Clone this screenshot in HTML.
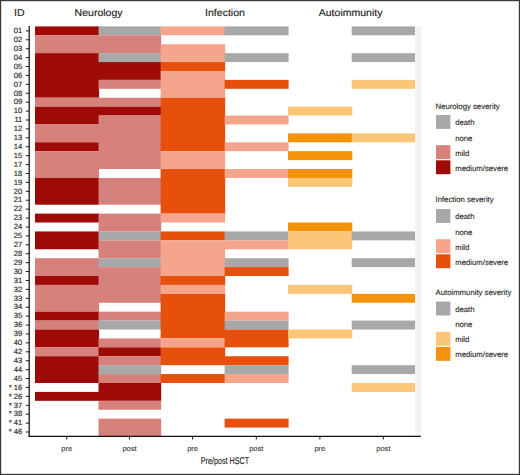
<!DOCTYPE html>
<html><head><meta charset="utf-8"><style>
html,body{margin:0;padding:0;background:#fff;}
body{width:520px;height:475px;overflow:hidden;}
svg{display:block;font-family:"Liberation Sans", sans-serif;text-rendering:geometricPrecision;}
</style></head><body>
<svg width="520" height="475" viewBox="0 0 520 475">
<rect width="520" height="475" fill="#fff"/>
<rect x="35" y="26.40" width="64.10" height="8.91" fill="#9e0a05"/>
<rect x="35" y="35.31" width="64.10" height="17.83" fill="#d6817c"/>
<rect x="35" y="53.14" width="64.10" height="44.57" fill="#9e0a05"/>
<rect x="35" y="97.72" width="64.10" height="8.91" fill="#d6817c"/>
<rect x="35" y="106.63" width="64.10" height="17.83" fill="#9e0a05"/>
<rect x="35" y="124.47" width="64.10" height="17.83" fill="#d6817c"/>
<rect x="35" y="142.29" width="64.10" height="8.91" fill="#9e0a05"/>
<rect x="35" y="151.21" width="64.10" height="26.74" fill="#d6817c"/>
<rect x="35" y="177.95" width="64.10" height="26.74" fill="#9e0a05"/>
<rect x="35" y="213.61" width="64.10" height="8.91" fill="#9e0a05"/>
<rect x="35" y="231.44" width="64.10" height="17.83" fill="#9e0a05"/>
<rect x="35" y="258.19" width="64.10" height="17.83" fill="#d6817c"/>
<rect x="35" y="276.02" width="64.10" height="8.91" fill="#9e0a05"/>
<rect x="35" y="284.93" width="64.10" height="26.74" fill="#d6817c"/>
<rect x="35" y="311.68" width="64.10" height="8.91" fill="#9e0a05"/>
<rect x="35" y="320.59" width="64.10" height="8.91" fill="#d6817c"/>
<rect x="35" y="329.51" width="64.10" height="17.83" fill="#9e0a05"/>
<rect x="35" y="347.34" width="64.10" height="8.91" fill="#d6817c"/>
<rect x="35" y="356.25" width="64.10" height="26.74" fill="#9e0a05"/>
<rect x="35" y="391.91" width="64.10" height="8.91" fill="#9e0a05"/>
<rect x="98.5" y="26.40" width="62.70" height="8.91" fill="#a8a8a8"/>
<rect x="98.5" y="35.31" width="62.70" height="17.83" fill="#d6817c"/>
<rect x="98.5" y="53.14" width="62.70" height="8.91" fill="#a8a8a8"/>
<rect x="98.5" y="62.06" width="62.70" height="17.83" fill="#9e0a05"/>
<rect x="98.5" y="79.89" width="62.70" height="8.91" fill="#d6817c"/>
<rect x="98.5" y="97.72" width="62.70" height="8.91" fill="#d6817c"/>
<rect x="98.5" y="106.63" width="62.70" height="8.91" fill="#9e0a05"/>
<rect x="98.5" y="115.55" width="62.70" height="53.49" fill="#d6817c"/>
<rect x="98.5" y="177.95" width="62.70" height="26.74" fill="#d6817c"/>
<rect x="98.5" y="213.61" width="62.70" height="17.83" fill="#d6817c"/>
<rect x="98.5" y="231.44" width="62.70" height="8.91" fill="#a8a8a8"/>
<rect x="98.5" y="240.36" width="62.70" height="17.83" fill="#d6817c"/>
<rect x="98.5" y="258.19" width="62.70" height="8.91" fill="#a8a8a8"/>
<rect x="98.5" y="267.10" width="62.70" height="35.66" fill="#d6817c"/>
<rect x="98.5" y="311.68" width="62.70" height="8.91" fill="#d6817c"/>
<rect x="98.5" y="320.59" width="62.70" height="8.91" fill="#a8a8a8"/>
<rect x="98.5" y="338.42" width="62.70" height="8.91" fill="#d6817c"/>
<rect x="98.5" y="347.34" width="62.70" height="8.91" fill="#9e0a05"/>
<rect x="98.5" y="356.25" width="62.70" height="8.91" fill="#d6817c"/>
<rect x="98.5" y="365.17" width="62.70" height="8.91" fill="#a8a8a8"/>
<rect x="98.5" y="374.08" width="62.70" height="8.91" fill="#d6817c"/>
<rect x="98.5" y="383.00" width="62.70" height="17.83" fill="#9e0a05"/>
<rect x="98.5" y="400.83" width="62.70" height="8.91" fill="#d6817c"/>
<rect x="98.5" y="418.66" width="62.70" height="17.83" fill="#d6817c"/>
<rect x="160.6" y="26.40" width="64.60" height="8.91" fill="#f5a58b"/>
<rect x="160.6" y="44.23" width="64.60" height="17.83" fill="#f5a58b"/>
<rect x="160.6" y="62.06" width="64.60" height="8.91" fill="#e6500c"/>
<rect x="160.6" y="70.97" width="64.60" height="26.74" fill="#f5a58b"/>
<rect x="160.6" y="97.72" width="64.60" height="53.49" fill="#e6500c"/>
<rect x="160.6" y="151.21" width="64.60" height="17.83" fill="#f5a58b"/>
<rect x="160.6" y="169.04" width="64.60" height="44.57" fill="#e6500c"/>
<rect x="160.6" y="213.61" width="64.60" height="8.91" fill="#f5a58b"/>
<rect x="160.6" y="231.44" width="64.60" height="8.91" fill="#e6500c"/>
<rect x="160.6" y="240.36" width="64.60" height="35.66" fill="#f5a58b"/>
<rect x="160.6" y="276.02" width="64.60" height="8.91" fill="#e6500c"/>
<rect x="160.6" y="284.93" width="64.60" height="8.91" fill="#f5a58b"/>
<rect x="160.6" y="293.85" width="64.60" height="44.57" fill="#e6500c"/>
<rect x="160.6" y="338.42" width="64.60" height="8.91" fill="#f5a58b"/>
<rect x="160.6" y="347.34" width="64.60" height="17.83" fill="#e6500c"/>
<rect x="160.6" y="374.08" width="64.60" height="8.91" fill="#e6500c"/>
<rect x="224.6" y="26.40" width="64.00" height="8.91" fill="#a8a8a8"/>
<rect x="224.6" y="53.14" width="64.00" height="8.91" fill="#a8a8a8"/>
<rect x="224.6" y="79.89" width="64.00" height="8.91" fill="#e6500c"/>
<rect x="224.6" y="115.55" width="64.00" height="8.91" fill="#f5a58b"/>
<rect x="224.6" y="142.29" width="64.00" height="8.91" fill="#f5a58b"/>
<rect x="224.6" y="169.04" width="64.00" height="8.91" fill="#f5a58b"/>
<rect x="224.6" y="231.44" width="64.00" height="8.91" fill="#a8a8a8"/>
<rect x="224.6" y="240.36" width="64.00" height="8.91" fill="#f5a58b"/>
<rect x="224.6" y="258.19" width="64.00" height="8.91" fill="#a8a8a8"/>
<rect x="224.6" y="267.10" width="64.00" height="8.91" fill="#e6500c"/>
<rect x="224.6" y="311.68" width="64.00" height="8.91" fill="#f5a58b"/>
<rect x="224.6" y="320.59" width="64.00" height="8.91" fill="#a8a8a8"/>
<rect x="224.6" y="329.51" width="64.00" height="17.83" fill="#e6500c"/>
<rect x="224.6" y="356.25" width="64.00" height="8.91" fill="#e6500c"/>
<rect x="224.6" y="365.17" width="64.00" height="8.91" fill="#a8a8a8"/>
<rect x="224.6" y="374.08" width="64.00" height="8.91" fill="#f5a58b"/>
<rect x="224.6" y="418.66" width="64.00" height="8.91" fill="#e6500c"/>
<rect x="288.0" y="106.63" width="64.30" height="8.91" fill="#fcc679"/>
<rect x="288.0" y="133.38" width="64.30" height="8.91" fill="#f4920a"/>
<rect x="288.0" y="151.21" width="64.30" height="8.91" fill="#f4920a"/>
<rect x="288.0" y="169.04" width="64.30" height="8.91" fill="#f4920a"/>
<rect x="288.0" y="177.95" width="64.30" height="8.91" fill="#fcc679"/>
<rect x="288.0" y="222.53" width="64.30" height="8.91" fill="#f4920a"/>
<rect x="288.0" y="231.44" width="64.30" height="17.83" fill="#fcc679"/>
<rect x="288.0" y="284.93" width="64.30" height="8.91" fill="#fcc679"/>
<rect x="288.0" y="329.51" width="64.30" height="8.91" fill="#fcc679"/>
<rect x="351.7" y="26.40" width="63.30" height="8.91" fill="#a8a8a8"/>
<rect x="351.7" y="53.14" width="63.30" height="8.91" fill="#a8a8a8"/>
<rect x="351.7" y="79.89" width="63.30" height="8.91" fill="#fcc679"/>
<rect x="351.7" y="133.38" width="63.30" height="8.91" fill="#fcc679"/>
<rect x="351.7" y="231.44" width="63.30" height="8.91" fill="#a8a8a8"/>
<rect x="351.7" y="258.19" width="63.30" height="8.91" fill="#a8a8a8"/>
<rect x="351.7" y="293.85" width="63.30" height="8.91" fill="#f4920a"/>
<rect x="351.7" y="320.59" width="63.30" height="8.91" fill="#a8a8a8"/>
<rect x="351.7" y="365.17" width="63.30" height="8.91" fill="#a8a8a8"/>
<rect x="351.7" y="383.00" width="63.30" height="8.91" fill="#fcc679"/>
<rect x="415.2" y="26.4" width="6" height="410.09" fill="#f2f2f2"/>
<line x1="29.2" y1="26" x2="29.2" y2="436.90" stroke="#111" stroke-width="1.25"/>
<line x1="28.6" y1="436.30" x2="420.8" y2="436.30" stroke="#111" stroke-width="1.25"/>
<line x1="25.8" y1="30.86" x2="29.2" y2="30.86" stroke="#1a1a1a" stroke-width="1"/>
<text x="0" y="33.11" text-anchor="end" font-size="7.6" fill="#2e2e2e" stroke="#2e2e2e" stroke-width="0.18" transform="translate(22.3 0) scale(1.0 1)">01</text>
<line x1="25.8" y1="39.77" x2="29.2" y2="39.77" stroke="#1a1a1a" stroke-width="1"/>
<text x="0" y="42.02" text-anchor="end" font-size="7.6" fill="#2e2e2e" stroke="#2e2e2e" stroke-width="0.18" transform="translate(22.3 0) scale(1.0 1)">02</text>
<line x1="25.8" y1="48.69" x2="29.2" y2="48.69" stroke="#1a1a1a" stroke-width="1"/>
<text x="0" y="50.94" text-anchor="end" font-size="7.6" fill="#2e2e2e" stroke="#2e2e2e" stroke-width="0.18" transform="translate(22.3 0) scale(1.0 1)">03</text>
<line x1="25.8" y1="57.60" x2="29.2" y2="57.60" stroke="#1a1a1a" stroke-width="1"/>
<text x="0" y="59.85" text-anchor="end" font-size="7.6" fill="#2e2e2e" stroke="#2e2e2e" stroke-width="0.18" transform="translate(22.3 0) scale(1.0 1)">04</text>
<line x1="25.8" y1="66.52" x2="29.2" y2="66.52" stroke="#1a1a1a" stroke-width="1"/>
<text x="0" y="68.77" text-anchor="end" font-size="7.6" fill="#2e2e2e" stroke="#2e2e2e" stroke-width="0.18" transform="translate(22.3 0) scale(1.0 1)">05</text>
<line x1="25.8" y1="75.43" x2="29.2" y2="75.43" stroke="#1a1a1a" stroke-width="1"/>
<text x="0" y="77.68" text-anchor="end" font-size="7.6" fill="#2e2e2e" stroke="#2e2e2e" stroke-width="0.18" transform="translate(22.3 0) scale(1.0 1)">06</text>
<line x1="25.8" y1="84.35" x2="29.2" y2="84.35" stroke="#1a1a1a" stroke-width="1"/>
<text x="0" y="86.60" text-anchor="end" font-size="7.6" fill="#2e2e2e" stroke="#2e2e2e" stroke-width="0.18" transform="translate(22.3 0) scale(1.0 1)">07</text>
<line x1="25.8" y1="93.26" x2="29.2" y2="93.26" stroke="#1a1a1a" stroke-width="1"/>
<text x="0" y="95.51" text-anchor="end" font-size="7.6" fill="#2e2e2e" stroke="#2e2e2e" stroke-width="0.18" transform="translate(22.3 0) scale(1.0 1)">08</text>
<line x1="25.8" y1="102.18" x2="29.2" y2="102.18" stroke="#1a1a1a" stroke-width="1"/>
<text x="0" y="104.43" text-anchor="end" font-size="7.6" fill="#2e2e2e" stroke="#2e2e2e" stroke-width="0.18" transform="translate(22.3 0) scale(1.0 1)">09</text>
<line x1="25.8" y1="111.09" x2="29.2" y2="111.09" stroke="#1a1a1a" stroke-width="1"/>
<text x="0" y="113.34" text-anchor="end" font-size="7.6" fill="#2e2e2e" stroke="#2e2e2e" stroke-width="0.18" transform="translate(22.3 0) scale(1.0 1)">10</text>
<line x1="25.8" y1="120.01" x2="29.2" y2="120.01" stroke="#1a1a1a" stroke-width="1"/>
<text x="0" y="122.26" text-anchor="end" font-size="7.6" fill="#2e2e2e" stroke="#2e2e2e" stroke-width="0.18" transform="translate(22.3 0) scale(1.0 1)">11</text>
<line x1="25.8" y1="128.92" x2="29.2" y2="128.92" stroke="#1a1a1a" stroke-width="1"/>
<text x="0" y="131.17" text-anchor="end" font-size="7.6" fill="#2e2e2e" stroke="#2e2e2e" stroke-width="0.18" transform="translate(22.3 0) scale(1.0 1)">12</text>
<line x1="25.8" y1="137.84" x2="29.2" y2="137.84" stroke="#1a1a1a" stroke-width="1"/>
<text x="0" y="140.09" text-anchor="end" font-size="7.6" fill="#2e2e2e" stroke="#2e2e2e" stroke-width="0.18" transform="translate(22.3 0) scale(1.0 1)">13</text>
<line x1="25.8" y1="146.75" x2="29.2" y2="146.75" stroke="#1a1a1a" stroke-width="1"/>
<text x="0" y="149.00" text-anchor="end" font-size="7.6" fill="#2e2e2e" stroke="#2e2e2e" stroke-width="0.18" transform="translate(22.3 0) scale(1.0 1)">14</text>
<line x1="25.8" y1="155.67" x2="29.2" y2="155.67" stroke="#1a1a1a" stroke-width="1"/>
<text x="0" y="157.92" text-anchor="end" font-size="7.6" fill="#2e2e2e" stroke="#2e2e2e" stroke-width="0.18" transform="translate(22.3 0) scale(1.0 1)">15</text>
<line x1="25.8" y1="164.58" x2="29.2" y2="164.58" stroke="#1a1a1a" stroke-width="1"/>
<text x="0" y="166.83" text-anchor="end" font-size="7.6" fill="#2e2e2e" stroke="#2e2e2e" stroke-width="0.18" transform="translate(22.3 0) scale(1.0 1)">17</text>
<line x1="25.8" y1="173.50" x2="29.2" y2="173.50" stroke="#1a1a1a" stroke-width="1"/>
<text x="0" y="175.75" text-anchor="end" font-size="7.6" fill="#2e2e2e" stroke="#2e2e2e" stroke-width="0.18" transform="translate(22.3 0) scale(1.0 1)">18</text>
<line x1="25.8" y1="182.41" x2="29.2" y2="182.41" stroke="#1a1a1a" stroke-width="1"/>
<text x="0" y="184.66" text-anchor="end" font-size="7.6" fill="#2e2e2e" stroke="#2e2e2e" stroke-width="0.18" transform="translate(22.3 0) scale(1.0 1)">19</text>
<line x1="25.8" y1="191.33" x2="29.2" y2="191.33" stroke="#1a1a1a" stroke-width="1"/>
<text x="0" y="193.58" text-anchor="end" font-size="7.6" fill="#2e2e2e" stroke="#2e2e2e" stroke-width="0.18" transform="translate(22.3 0) scale(1.0 1)">20</text>
<line x1="25.8" y1="200.24" x2="29.2" y2="200.24" stroke="#1a1a1a" stroke-width="1"/>
<text x="0" y="202.49" text-anchor="end" font-size="7.6" fill="#2e2e2e" stroke="#2e2e2e" stroke-width="0.18" transform="translate(22.3 0) scale(1.0 1)">21</text>
<line x1="25.8" y1="209.16" x2="29.2" y2="209.16" stroke="#1a1a1a" stroke-width="1"/>
<text x="0" y="211.41" text-anchor="end" font-size="7.6" fill="#2e2e2e" stroke="#2e2e2e" stroke-width="0.18" transform="translate(22.3 0) scale(1.0 1)">22</text>
<line x1="25.8" y1="218.07" x2="29.2" y2="218.07" stroke="#1a1a1a" stroke-width="1"/>
<text x="0" y="220.32" text-anchor="end" font-size="7.6" fill="#2e2e2e" stroke="#2e2e2e" stroke-width="0.18" transform="translate(22.3 0) scale(1.0 1)">23</text>
<line x1="25.8" y1="226.99" x2="29.2" y2="226.99" stroke="#1a1a1a" stroke-width="1"/>
<text x="0" y="229.24" text-anchor="end" font-size="7.6" fill="#2e2e2e" stroke="#2e2e2e" stroke-width="0.18" transform="translate(22.3 0) scale(1.0 1)">24</text>
<line x1="25.8" y1="235.90" x2="29.2" y2="235.90" stroke="#1a1a1a" stroke-width="1"/>
<text x="0" y="238.15" text-anchor="end" font-size="7.6" fill="#2e2e2e" stroke="#2e2e2e" stroke-width="0.18" transform="translate(22.3 0) scale(1.0 1)">25</text>
<line x1="25.8" y1="244.82" x2="29.2" y2="244.82" stroke="#1a1a1a" stroke-width="1"/>
<text x="0" y="247.07" text-anchor="end" font-size="7.6" fill="#2e2e2e" stroke="#2e2e2e" stroke-width="0.18" transform="translate(22.3 0) scale(1.0 1)">27</text>
<line x1="25.8" y1="253.73" x2="29.2" y2="253.73" stroke="#1a1a1a" stroke-width="1"/>
<text x="0" y="255.98" text-anchor="end" font-size="7.6" fill="#2e2e2e" stroke="#2e2e2e" stroke-width="0.18" transform="translate(22.3 0) scale(1.0 1)">28</text>
<line x1="25.8" y1="262.65" x2="29.2" y2="262.65" stroke="#1a1a1a" stroke-width="1"/>
<text x="0" y="264.90" text-anchor="end" font-size="7.6" fill="#2e2e2e" stroke="#2e2e2e" stroke-width="0.18" transform="translate(22.3 0) scale(1.0 1)">29</text>
<line x1="25.8" y1="271.56" x2="29.2" y2="271.56" stroke="#1a1a1a" stroke-width="1"/>
<text x="0" y="273.81" text-anchor="end" font-size="7.6" fill="#2e2e2e" stroke="#2e2e2e" stroke-width="0.18" transform="translate(22.3 0) scale(1.0 1)">30</text>
<line x1="25.8" y1="280.48" x2="29.2" y2="280.48" stroke="#1a1a1a" stroke-width="1"/>
<text x="0" y="282.73" text-anchor="end" font-size="7.6" fill="#2e2e2e" stroke="#2e2e2e" stroke-width="0.18" transform="translate(22.3 0) scale(1.0 1)">31</text>
<line x1="25.8" y1="289.39" x2="29.2" y2="289.39" stroke="#1a1a1a" stroke-width="1"/>
<text x="0" y="291.64" text-anchor="end" font-size="7.6" fill="#2e2e2e" stroke="#2e2e2e" stroke-width="0.18" transform="translate(22.3 0) scale(1.0 1)">32</text>
<line x1="25.8" y1="298.31" x2="29.2" y2="298.31" stroke="#1a1a1a" stroke-width="1"/>
<text x="0" y="300.56" text-anchor="end" font-size="7.6" fill="#2e2e2e" stroke="#2e2e2e" stroke-width="0.18" transform="translate(22.3 0) scale(1.0 1)">33</text>
<line x1="25.8" y1="307.22" x2="29.2" y2="307.22" stroke="#1a1a1a" stroke-width="1"/>
<text x="0" y="309.47" text-anchor="end" font-size="7.6" fill="#2e2e2e" stroke="#2e2e2e" stroke-width="0.18" transform="translate(22.3 0) scale(1.0 1)">34</text>
<line x1="25.8" y1="316.14" x2="29.2" y2="316.14" stroke="#1a1a1a" stroke-width="1"/>
<text x="0" y="318.39" text-anchor="end" font-size="7.6" fill="#2e2e2e" stroke="#2e2e2e" stroke-width="0.18" transform="translate(22.3 0) scale(1.0 1)">35</text>
<line x1="25.8" y1="325.05" x2="29.2" y2="325.05" stroke="#1a1a1a" stroke-width="1"/>
<text x="0" y="327.30" text-anchor="end" font-size="7.6" fill="#2e2e2e" stroke="#2e2e2e" stroke-width="0.18" transform="translate(22.3 0) scale(1.0 1)">36</text>
<line x1="25.8" y1="333.97" x2="29.2" y2="333.97" stroke="#1a1a1a" stroke-width="1"/>
<text x="0" y="336.22" text-anchor="end" font-size="7.6" fill="#2e2e2e" stroke="#2e2e2e" stroke-width="0.18" transform="translate(22.3 0) scale(1.0 1)">39</text>
<line x1="25.8" y1="342.88" x2="29.2" y2="342.88" stroke="#1a1a1a" stroke-width="1"/>
<text x="0" y="345.13" text-anchor="end" font-size="7.6" fill="#2e2e2e" stroke="#2e2e2e" stroke-width="0.18" transform="translate(22.3 0) scale(1.0 1)">40</text>
<line x1="25.8" y1="351.80" x2="29.2" y2="351.80" stroke="#1a1a1a" stroke-width="1"/>
<text x="0" y="354.05" text-anchor="end" font-size="7.6" fill="#2e2e2e" stroke="#2e2e2e" stroke-width="0.18" transform="translate(22.3 0) scale(1.0 1)">42</text>
<line x1="25.8" y1="360.71" x2="29.2" y2="360.71" stroke="#1a1a1a" stroke-width="1"/>
<text x="0" y="362.96" text-anchor="end" font-size="7.6" fill="#2e2e2e" stroke="#2e2e2e" stroke-width="0.18" transform="translate(22.3 0) scale(1.0 1)">43</text>
<line x1="25.8" y1="369.63" x2="29.2" y2="369.63" stroke="#1a1a1a" stroke-width="1"/>
<text x="0" y="371.88" text-anchor="end" font-size="7.6" fill="#2e2e2e" stroke="#2e2e2e" stroke-width="0.18" transform="translate(22.3 0) scale(1.0 1)">44</text>
<line x1="25.8" y1="378.54" x2="29.2" y2="378.54" stroke="#1a1a1a" stroke-width="1"/>
<text x="0" y="380.79" text-anchor="end" font-size="7.6" fill="#2e2e2e" stroke="#2e2e2e" stroke-width="0.18" transform="translate(22.3 0) scale(1.0 1)">45</text>
<line x1="25.8" y1="387.46" x2="29.2" y2="387.46" stroke="#1a1a1a" stroke-width="1"/>
<text x="0" y="389.71" text-anchor="end" font-size="7.6" fill="#2e2e2e" stroke="#2e2e2e" stroke-width="0.18" transform="translate(22.3 0) scale(1.0 1)">* 16</text>
<line x1="25.8" y1="396.37" x2="29.2" y2="396.37" stroke="#1a1a1a" stroke-width="1"/>
<text x="0" y="398.62" text-anchor="end" font-size="7.6" fill="#2e2e2e" stroke="#2e2e2e" stroke-width="0.18" transform="translate(22.3 0) scale(1.0 1)">* 26</text>
<line x1="25.8" y1="405.29" x2="29.2" y2="405.29" stroke="#1a1a1a" stroke-width="1"/>
<text x="0" y="407.54" text-anchor="end" font-size="7.6" fill="#2e2e2e" stroke="#2e2e2e" stroke-width="0.18" transform="translate(22.3 0) scale(1.0 1)">* 37</text>
<line x1="25.8" y1="414.20" x2="29.2" y2="414.20" stroke="#1a1a1a" stroke-width="1"/>
<text x="0" y="416.45" text-anchor="end" font-size="7.6" fill="#2e2e2e" stroke="#2e2e2e" stroke-width="0.18" transform="translate(22.3 0) scale(1.0 1)">* 38</text>
<line x1="25.8" y1="423.12" x2="29.2" y2="423.12" stroke="#1a1a1a" stroke-width="1"/>
<text x="0" y="425.37" text-anchor="end" font-size="7.6" fill="#2e2e2e" stroke="#2e2e2e" stroke-width="0.18" transform="translate(22.3 0) scale(1.0 1)">* 41</text>
<line x1="25.8" y1="432.03" x2="29.2" y2="432.03" stroke="#1a1a1a" stroke-width="1"/>
<text x="0" y="434.28" text-anchor="end" font-size="7.6" fill="#2e2e2e" stroke="#2e2e2e" stroke-width="0.18" transform="translate(22.3 0) scale(1.0 1)">* 46</text>
<line x1="66.75" y1="436.30" x2="66.75" y2="439.50" stroke="#1a1a1a" stroke-width="1"/>
<text x="0" y="0" text-anchor="middle" font-size="7.2" fill="#3a3a3a" stroke="#3a3a3a" stroke-width="0.1" transform="translate(66.75 450.5) scale(1.05 1)">pre</text>
<line x1="129.55" y1="436.30" x2="129.55" y2="439.50" stroke="#1a1a1a" stroke-width="1"/>
<text x="0" y="0" text-anchor="middle" font-size="7.2" fill="#3a3a3a" stroke="#3a3a3a" stroke-width="0.1" transform="translate(129.55 450.5) scale(1.05 1)">post</text>
<line x1="192.60" y1="436.30" x2="192.60" y2="439.50" stroke="#1a1a1a" stroke-width="1"/>
<text x="0" y="0" text-anchor="middle" font-size="7.2" fill="#3a3a3a" stroke="#3a3a3a" stroke-width="0.1" transform="translate(192.60 450.5) scale(1.05 1)">pre</text>
<line x1="256.30" y1="436.30" x2="256.30" y2="439.50" stroke="#1a1a1a" stroke-width="1"/>
<text x="0" y="0" text-anchor="middle" font-size="7.2" fill="#3a3a3a" stroke="#3a3a3a" stroke-width="0.1" transform="translate(256.30 450.5) scale(1.05 1)">post</text>
<line x1="319.85" y1="436.30" x2="319.85" y2="439.50" stroke="#1a1a1a" stroke-width="1"/>
<text x="0" y="0" text-anchor="middle" font-size="7.2" fill="#3a3a3a" stroke="#3a3a3a" stroke-width="0.1" transform="translate(319.85 450.5) scale(1.05 1)">pre</text>
<line x1="383.35" y1="436.30" x2="383.35" y2="439.50" stroke="#1a1a1a" stroke-width="1"/>
<text x="0" y="0" text-anchor="middle" font-size="7.2" fill="#3a3a3a" stroke="#3a3a3a" stroke-width="0.1" transform="translate(383.35 450.5) scale(1.05 1)">post</text>
<text x="0" y="0" font-size="10.0" fill="#222" stroke="#222" stroke-width="0.15" transform="translate(14 16.0) scale(1.053 1.0)">ID</text>
<text x="0" y="0" text-anchor="middle" font-size="10.0" fill="#222" stroke="#222" stroke-width="0.15" transform="translate(98.6 16.0) scale(1.053 1.0)">Neurology</text>
<text x="0" y="0" text-anchor="middle" font-size="10.0" fill="#222" stroke="#222" stroke-width="0.15" transform="translate(225 16.0) scale(1.053 1.0)">Infection</text>
<text x="0" y="0" text-anchor="middle" font-size="10.0" fill="#222" stroke="#222" stroke-width="0.15" transform="translate(350.6 16.0) scale(1.053 1.0)">Autoimmunity</text>
<text x="0" y="464.2" text-anchor="middle" font-size="9.8" fill="#2a2a2a" stroke="#2a2a2a" stroke-width="0.15" transform="translate(225 0) scale(0.734 1)">Pre/post HSCT</text>
<text x="435.5" y="108.50" font-size="7.75" fill="#2a2a2a" stroke="#2a2a2a" stroke-width="0.12">Neurology severity</text>
<rect x="436" y="115.00" width="14.4" height="13.9" fill="#a8a8a8"/>
<text x="455.2" y="125.40" font-size="7.75" fill="#2a2a2a" stroke="#2a2a2a" stroke-width="0.12">death</text>
<text x="455.2" y="140.50" font-size="7.75" fill="#2a2a2a" stroke="#2a2a2a" stroke-width="0.12">none</text>
<rect x="436" y="145.20" width="14.4" height="13.9" fill="#d6817c"/>
<text x="455.2" y="155.60" font-size="7.75" fill="#2a2a2a" stroke="#2a2a2a" stroke-width="0.12">mild</text>
<rect x="436" y="160.30" width="14.4" height="13.9" fill="#9e0a05"/>
<text x="455.2" y="170.70" font-size="7.75" fill="#2a2a2a" stroke="#2a2a2a" stroke-width="0.12">medium/severe</text>
<text x="435.5" y="202.00" font-size="7.75" fill="#2a2a2a" stroke="#2a2a2a" stroke-width="0.12">Infection severity</text>
<rect x="436" y="209.00" width="14.4" height="13.9" fill="#a8a8a8"/>
<text x="455.2" y="219.40" font-size="7.75" fill="#2a2a2a" stroke="#2a2a2a" stroke-width="0.12">death</text>
<text x="455.2" y="234.50" font-size="7.75" fill="#2a2a2a" stroke="#2a2a2a" stroke-width="0.12">none</text>
<rect x="436" y="239.20" width="14.4" height="13.9" fill="#f5a58b"/>
<text x="455.2" y="249.60" font-size="7.75" fill="#2a2a2a" stroke="#2a2a2a" stroke-width="0.12">mild</text>
<rect x="436" y="254.30" width="14.4" height="13.9" fill="#e6500c"/>
<text x="455.2" y="264.70" font-size="7.75" fill="#2a2a2a" stroke="#2a2a2a" stroke-width="0.12">medium/severe</text>
<text x="435.5" y="294.50" font-size="7.75" fill="#2a2a2a" stroke="#2a2a2a" stroke-width="0.12">Autoimmunity severity</text>
<rect x="436" y="301.60" width="14.4" height="13.9" fill="#a8a8a8"/>
<text x="455.2" y="312.00" font-size="7.75" fill="#2a2a2a" stroke="#2a2a2a" stroke-width="0.12">death</text>
<text x="455.2" y="327.10" font-size="7.75" fill="#2a2a2a" stroke="#2a2a2a" stroke-width="0.12">none</text>
<rect x="436" y="331.80" width="14.4" height="13.9" fill="#fcc679"/>
<text x="455.2" y="342.20" font-size="7.75" fill="#2a2a2a" stroke="#2a2a2a" stroke-width="0.12">mild</text>
<rect x="436" y="346.90" width="14.4" height="13.9" fill="#f4920a"/>
<text x="455.2" y="357.30" font-size="7.75" fill="#2a2a2a" stroke="#2a2a2a" stroke-width="0.12">medium/severe</text>
<rect x="0.5" y="0.5" width="519" height="474" fill="none" stroke="#3a3a3a" stroke-width="1.4"/>
</svg>
</body></html>
